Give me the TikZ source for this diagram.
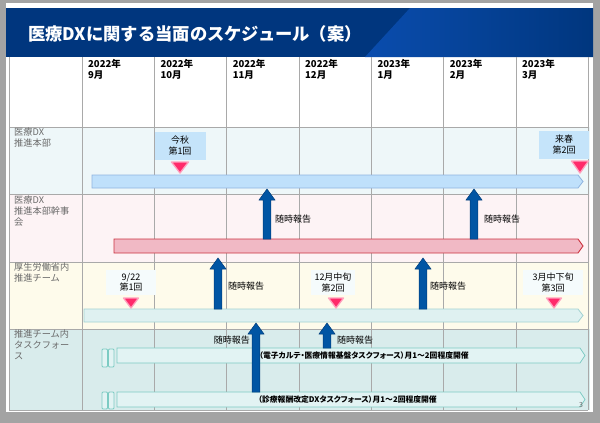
\documentclass[tikz,border=0pt]{standalone}
\usepackage{fontspec}
\setmainfont{Noto Sans CJK JP}
\newfontfamily\jpp[RawFeature=+palt]{Noto Sans CJK JP}
\definecolor{pagegray}{HTML}{A3A3A3}
\definecolor{hdrblue}{HTML}{00367E}
\definecolor{hdrlight}{HTML}{0A4DAE}
\definecolor{gridc}{HTML}{A9A9A9}
\definecolor{rowA}{HTML}{EEF7F9}
\definecolor{rowB}{HTML}{FDF3F5}
\definecolor{rowC}{HTML}{FEFBEB}
\definecolor{rowD}{HTML}{D9ECEC}
\definecolor{barAf}{HTML}{BFE0FB}
\definecolor{barAd}{HTML}{8FB4E0}
\definecolor{barBf}{HTML}{F1B9C5}
\definecolor{barBd}{HTML}{CC3340}
\definecolor{barCf}{HTML}{DFF1F1}
\definecolor{barCd}{HTML}{A2D2D2}
\definecolor{tff}{HTML}{E2F3F3}
\definecolor{tfd}{HTML}{7CCBC3}
\definecolor{calA}{HTML}{C5E4FA}
\definecolor{calC}{HTML}{F5FBFC}
\definecolor{trif}{HTML}{FF2A6A}
\definecolor{trid}{HTML}{FFA0BD}
\definecolor{arrf}{HTML}{0055A4}
\definecolor{arrd}{HTML}{003C7A}
\definecolor{lblgray}{HTML}{6A6A6A}
\tikzset{
  gridline/.style={draw=gridc, line width=0.8pt},
  monthlbl/.style={anchor=north west, inner sep=0pt, align=left, font=\fontsize{9.5}{11.5}\selectfont\bfseries},
  rowlbl/.style={anchor=north west, inner sep=0pt, align=left, text=lblgray, font=\fontsize{9.2}{11}\selectfont},
  callA/.style={fill=calA, inner sep=0pt, align=center, minimum width=51pt, minimum height=28pt, font=\fontsize{9}{11}\selectfont},
  callC/.style={fill=calC, inner sep=0pt, align=center, minimum height=25pt, font=\fontsize{9}{10.5}\selectfont},
  marktri/.style={fill=trif, draw=trid, line width=1.3pt, line join=round},
  blockarrow/.style={fill=arrf, draw=arrd, line width=0.5pt},
  reportlbl/.style={inner sep=0pt, font=\fontsize{9}{11}\selectfont},
  bA/.style={fill=barAf, draw=barAd, line width=0.8pt},
  bB/.style={fill=barBf, draw=barBd, line width=0.9pt},
  bC/.style={fill=barCf, draw=barCd, line width=0.8pt},
  bT/.style={fill=tff, draw=tfd, line width=0.8pt},
  tflbl/.style={anchor=west, inner sep=0pt, font=\jpp\fontsize{7.8}{9}\selectfont\bfseries},
}
% block up arrow: x, y bottom, y tip
\newcommand\blockup[3]{%
  \filldraw[blockarrow] (#1-3.8,#2) -- (#1-3.8,#3+11) -- (#1-8,#3+11) -- (#1,#3)
    -- (#1+8,#3+11) -- (#1+3.8,#3+11) -- (#1+3.8,#2) -- cycle;}
% chevron bar: style, x1, x2, y1, y2
\newcommand\chevbar[5]{%
  \filldraw[#1] (#2,#4) -- (#3-5,#4) -- (#3,{(#4+#5)/2}) -- (#3-5,#5) -- (#2,#5) -- cycle;}
% down triangle: x, ytop, ybottom, half width
\newcommand\downtri[4]{%
  \filldraw[marktri] (#1-#4,#2) -- (#1+#4,#2) -- (#1,#3) -- cycle;}
\begin{document}
\begin{tikzpicture}[x=1pt,y=-1pt]
\useasboundingbox (0,0) rectangle (600,423);
\fill[pagegray] (0,0) rectangle (600,423);
\fill[white] (6,3) rectangle (593,412);
% header band
\fill[hdrblue] (6,8) rectangle (593,57);
\shade[left color=hdrlight, right color=hdrblue] (410,8) -- (593,8) -- (593,57) -- (365,57) -- cycle;
\node[anchor=west, text=white, inner sep=0pt, font=\fontsize{17.3}{19}\selectfont\bfseries] (title) at (28,34) {医療DXに関する当面のスケジュール（案）};
% row backgrounds
\fill[rowA] (9,127) rectangle (590,194);
\fill[rowB] (9,194) rectangle (590,262);
\fill[rowC] (9,262) rectangle (590,329);
\fill[rowD] (9,329) rectangle (590,410);
% grid
\foreach \x in {9,82,154.3,226.6,299,371.3,443.6,516,588.3}
  \draw[gridline] (\x,57) -- (\x,410);
\foreach \y in {127,194,262,329,410}
  \draw[gridline] (9,\y) -- (588.3,\y);
% month headers
\node[monthlbl] (m9)  at (88,59)    {2022年\\9月};
\node[monthlbl] (m10) at (160.3,59) {2022年\\10月};
\node[monthlbl] (m11) at (232.6,59) {2022年\\11月};
\node[monthlbl] (m12) at (305,59)   {2022年\\12月};
\node[monthlbl] (m1)  at (377.3,59) {2023年\\1月};
\node[monthlbl] (m2)  at (449.6,59) {2023年\\2月};
\node[monthlbl] (m3)  at (522,59)   {2023年\\3月};
% row labels
\node[rowlbl] (rA) at (14,128) {医療DX\\推進本部};
\node[rowlbl] (rB) at (14,196) {医療DX\\推進本部幹事\\会};
\node[rowlbl] (rC) at (14,263) {厚生労働省内\\推進チーム};
\node[rowlbl] (rD) at (14,330) {推進チーム内\\タスクフォー\\ス};
% row 1
\chevbar{bA}{92}{583}{175}{188}
\node[callA] (cA1) at (180,146) {今秋\\第1回};
\node[callA, minimum width=50pt] (cA2) at (564,145) {来春\\第2回};
\downtri{180}{162}{173}{8.5}
\downtri{580}{161}{173}{8.5}
% row 2
\chevbar{bB}{114}{583}{239}{253}
\blockup{267}{239}{189}
\blockup{474}{239}{189}
\node[reportlbl, anchor=west] (rep1) at (275,219) {随時報告};
\node[reportlbl, anchor=west] (rep2) at (484,219) {随時報告};
% row 3
\chevbar{bC}{84}{583}{309}{322}
\node[callC, minimum width=50pt] (cC1) at (131,282.5) {9/22\\第1回};
\node[callC, minimum width=44pt] (cC2) at (333,282.5) {12月中旬\\第2回};
\node[callC, minimum width=60pt] (cC3) at (553,282.5) {3月中下旬\\第3回};
\downtri{131}{298}{308}{7.5}
\downtri{336}{298}{308}{7.5}
\downtri{554}{298}{308}{7.5}
\blockup{218}{309}{258}
\blockup{423}{309}{258}
\node[reportlbl, anchor=west] (rep3) at (228,286) {随時報告};
\node[reportlbl, anchor=west] (rep4) at (430,286) {随時報告};
% row 4
\filldraw[bT, rounded corners=1pt] (102,349) rectangle (107.5,367);
\filldraw[bT, rounded corners=1pt] (108.5,349) rectangle (114,367);
\filldraw[bT, rounded corners=1pt] (102,392) rectangle (107.5,409);
\filldraw[bT, rounded corners=1pt] (108.5,392) rectangle (114,409);
\chevbar{bT}{117}{585}{348}{363}
\chevbar{bT}{117}{585}{392}{407}
\blockup{256}{392}{323}
\blockup{327}{348}{323}
\node[reportlbl, anchor=east] (rep5) at (250,340) {随時報告};
\node[reportlbl, anchor=west] (rep6) at (337,340) {随時報告};
\node[tflbl] (tf1) at (259,356) {（電子カルテ・医療情報基盤タスクフォース）月1～2回程度開催};
\node[tflbl] (tf2) at (258,399.5) {（診療報酬改定DXタスクフォース）月1～2回程度開催};
% page number
\node[inner sep=0pt, text=lblgray, font=\fontsize{7}{8}\selectfont] (pg) at (581,405) {3};
\end{tikzpicture}
\end{document}
